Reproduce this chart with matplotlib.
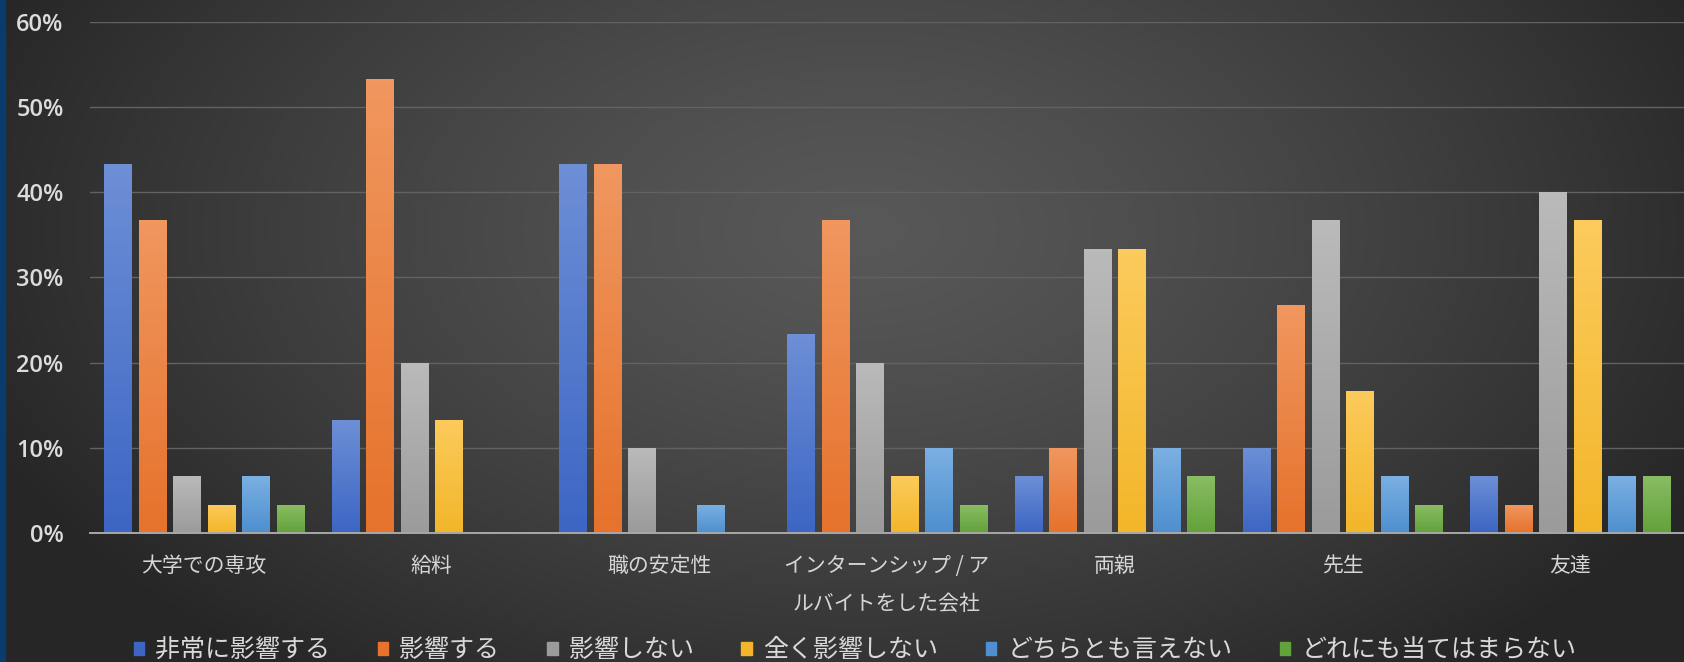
import numpy as np
import matplotlib
matplotlib.use("Agg")
import matplotlib.pyplot as plt
from matplotlib.patches import Rectangle
from matplotlib.colors import to_rgb

plt.rcParams['font.family'] = ['Noto Sans CJK JP', 'DejaVu Sans']

categories = ['大学での専攻', '給料', '職の安定性', 'インターンシップ / ア\nルバイトをした会社',
              '両親', '先生', '友達']
series_names = ['非常に影響する', '影響する', '影響しない', '全く影響しない',
                'どちらとも言えない', 'どれにも当てはまらない']

very_strong = [43.3, 13.3, 43.3, 23.3, 6.7, 10.0, 6.7]
strong = [36.7, 53.3, 43.3, 36.7, 10.0, 26.7, 3.3]
no_effect = [6.7, 20.0, 10.0, 20.0, 33.3, 36.7, 40.0]
none_at_all = [3.3, 13.3, 0.0, 6.7, 33.3, 16.7, 36.7]
neutral = [6.7, 0.0, 3.3, 10.0, 10.0, 6.7, 6.7]
not_applicable = [3.3, 0.0, 0.0, 3.3, 6.7, 3.3, 6.7]

series_values = [very_strong, strong, no_effect, none_at_all, neutral, not_applicable]

y_ticks = [0, 10, 20, 30, 40, 50, 60]
y_tick_labels = ['0%', '10%', '20%', '30%', '40%', '50%', '60%']

# (top, bottom) colours of the vertical gradient on each series
colors = [('#6d8fd6', '#3d66c4'),
          ('#f0975f', '#e6722c'),
          ('#bababa', '#9b9b9b'),
          ('#fccb5c', '#f3b62a'),
          ('#7bb0e2', '#4e8fcf'),
          ('#8abd64', '#62a23a')]

W, H = 1684, 662
fig = plt.figure(figsize=(W / 100, H / 100), dpi=100)

# radial dark-grey background
bg = fig.add_axes([0, 0, 1, 1], zorder=-10)
bg.set_axis_off()
yy, xx = np.mgrid[0:H, 0:W]
r = np.sqrt(((xx - 860) / 950.0) ** 2 + ((yy - 230) / 560.0) ** 2)
r = np.clip(r, 0, 1)
c_in = np.array(to_rgb('#585858'))
c_out = np.array(to_rgb('#262626'))
img = c_in[None, None, :] * (1 - r[..., None] ** 1.3) + c_out[None, None, :] * (r[..., None] ** 1.3)
bg.imshow(img, extent=[0, 1, 0, 1], aspect='auto', origin='upper')
bg.set_xlim(0, 1)
bg.set_ylim(0, 1)
bg.add_patch(Rectangle((0, 0), 5 / W, 1, transform=bg.transAxes, color='#0b3a6c'))

ax = fig.add_axes([90 / W, 129 / H, 1 - 90 / W, (640.3 - 129) / H])
ax.patch.set_alpha(0)

n_series = len(series_values)
step = 0.1515
width = 0.119
x = np.arange(len(categories))
offsets = (np.arange(n_series) - (n_series - 1) / 2) * step

for vals, (ctop, cbot), off, name in zip(series_values, colors, offsets, series_names):
    bars = ax.bar(x + off, vals, width, color=cbot, label=name, zorder=3, linewidth=0)
    grad = np.linspace(0, 1, 64)[:, None, None]
    top = np.array(to_rgb(ctop))
    bot = np.array(to_rgb(cbot))
    gimg = top[None, None, :] * (1 - grad) + bot[None, None, :] * grad
    for b in bars:
        h = b.get_height()
        if h <= 0:
            continue
        x0 = b.get_x()
        im = ax.imshow(gimg, extent=[x0, x0 + b.get_width(), 0, h], aspect='auto',
                       origin='upper', zorder=4)
        im.set_clip_path(b)

ax.set_xlim(-0.5, len(categories) - 0.5)
ax.set_ylim(0, 60)
ax.set_yticks(y_ticks)
ax.set_yticklabels(y_tick_labels, fontfamily='Open Sans', fontweight='semibold',
                   fontsize=17, color='#dcdcdc')
ax.set_xticks(x)
ax.set_xticklabels(categories, fontsize=15, color='#d6d6d6', linespacing=1.95)
ax.tick_params(axis='y', length=0, pad=19)
ax.tick_params(axis='x', length=0, pad=16)

ax.grid(axis='y', color='#626262', linewidth=1.0, zorder=1)
ax.set_axisbelow(True)
for s in ['top', 'right', 'left']:
    ax.spines[s].set_visible(False)
ax.spines['bottom'].set_color('#a8a8a8')
ax.spines['bottom'].set_linewidth(1.4)
ax.spines['bottom'].set_zorder(5)

handles = [Rectangle((0, 0), 1, 1, color=c[1]) for c in colors]
leg = fig.legend(handles, series_names, loc='center', bbox_to_anchor=(855 / W, 1 - 650 / H),
                 ncol=6, frameon=False, fontsize=18, handlelength=0.42, handleheight=0.42,
                 handletextpad=0.45, columnspacing=1.9, borderaxespad=0, borderpad=0)
for t in leg.get_texts():
    t.set_color('#d9d9d9')

fig.savefig('out.png', dpi=100)
